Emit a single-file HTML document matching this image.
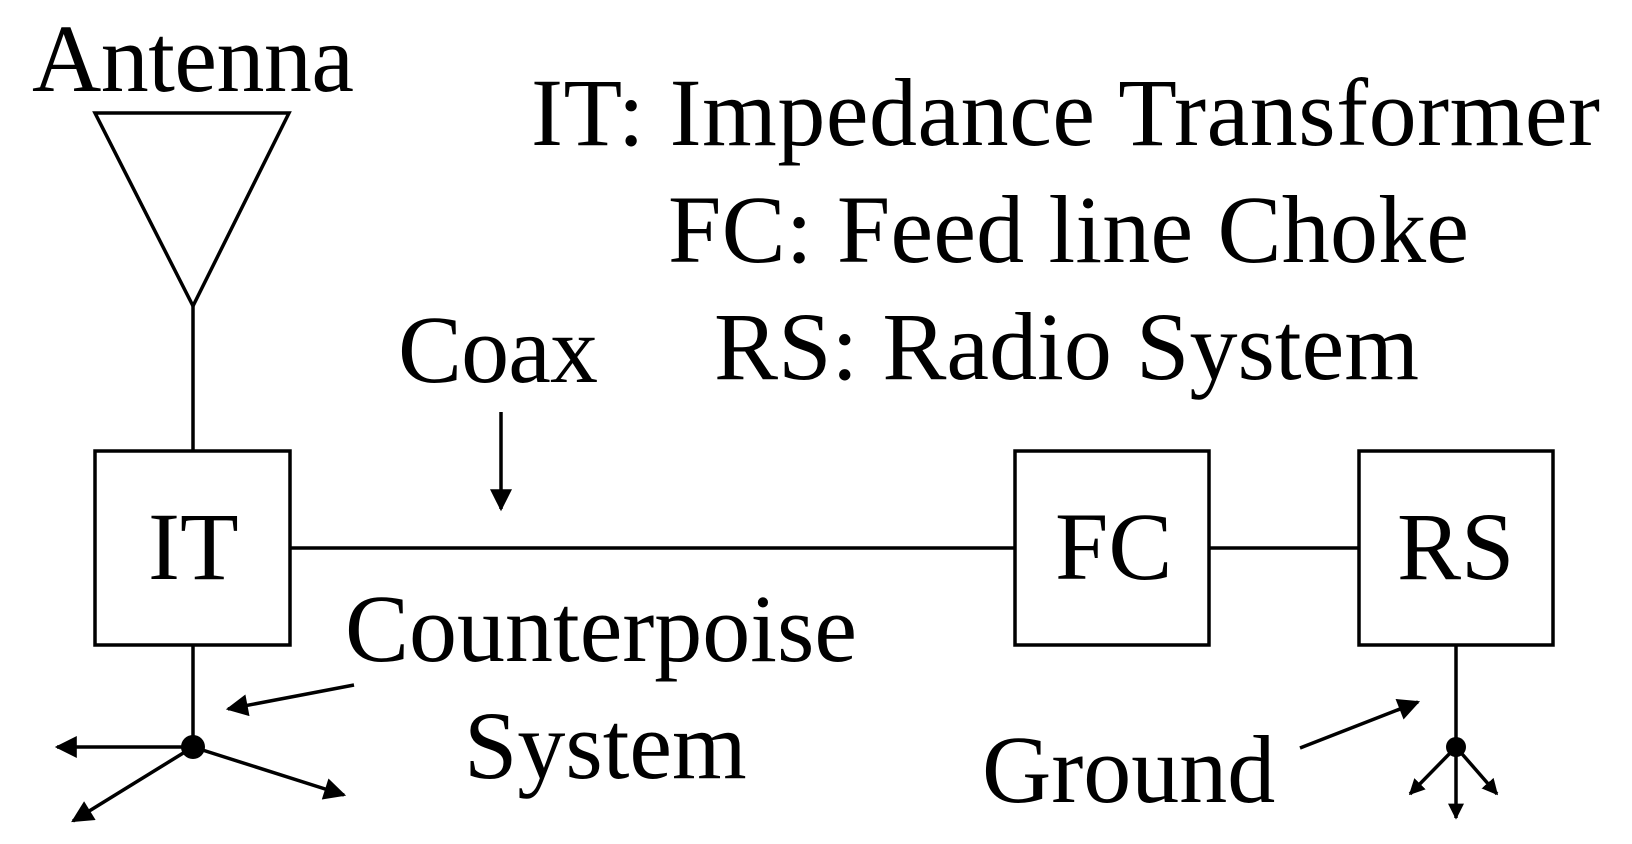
<!DOCTYPE html>
<html><head><meta charset="utf-8"><style>
html,body{margin:0;padding:0;background:#fff;}
svg{display:block;}
text{font-family:"Liberation Serif",serif;fill:#000;font-size:96px;}
</style></head><body>
<svg width="1632" height="844" viewBox="0 0 1632 844" xmlns="http://www.w3.org/2000/svg">
<defs>
<marker id="a" viewBox="0 0 10 10" refX="9" refY="5" markerWidth="8" markerHeight="8" markerUnits="userSpaceOnUse" orient="auto">
<path d="M0,0 L10,5 L0,10 z" fill="#000"/></marker>
<marker id="b" viewBox="0 0 10 10" refX="9" refY="5" markerWidth="24" markerHeight="22" markerUnits="userSpaceOnUse" orient="auto">
<path d="M0,0 L10,5 L0,10 z" fill="#000"/></marker>
<marker id="c" viewBox="0 0 10 10" refX="9" refY="5" markerWidth="16" markerHeight="16" markerUnits="userSpaceOnUse" orient="auto">
<path d="M0,0 L10,5 L0,10 z" fill="#000"/></marker>
</defs>
<g stroke="#000" stroke-width="3.5" fill="none">
<polygon points="95,113 289,113 193,306"/>
<line x1="193" y1="306" x2="193" y2="451"/>
<rect x="95" y="451" width="195" height="194"/>
<rect x="1015" y="451" width="194" height="194"/>
<rect x="1359" y="451" width="194" height="194"/>
<line x1="290" y1="548" x2="1015" y2="548"/>
<line x1="1209" y1="548" x2="1359" y2="548"/>
<line x1="193" y1="645" x2="193" y2="747"/>
<line x1="1456" y1="645" x2="1456" y2="747"/>
<line x1="501" y1="412" x2="501" y2="509" marker-end="url(#b)"/>
<line x1="354" y1="685" x2="228" y2="709" marker-end="url(#b)"/>
<line x1="193" y1="747" x2="57" y2="747" marker-end="url(#b)"/>
<line x1="193" y1="747" x2="73" y2="821" marker-end="url(#b)"/>
<line x1="193" y1="747" x2="344" y2="795" marker-end="url(#b)"/>
<line x1="1300" y1="748" x2="1418" y2="702" marker-end="url(#b)"/>
<line x1="1456" y1="747" x2="1410" y2="794" marker-end="url(#c)"/>
<line x1="1456" y1="747" x2="1456" y2="818" marker-end="url(#c)"/>
<line x1="1456" y1="747" x2="1497" y2="794" marker-end="url(#c)"/>
</g>
<circle cx="193" cy="747" r="12" fill="#000"/>
<circle cx="1456" cy="747" r="10" fill="#000"/>
<text x="32" y="91" textLength="322">Antenna</text>
<text x="531" y="145" textLength="1069">IT: Impedance Transformer</text>
<text x="668" y="262" textLength="801">FC: Feed line Choke</text>
<text x="714" y="379" textLength="705">RS: Radio System</text>
<text x="398" y="382" textLength="200">Coax</text>
<text x="148" y="579" font-size="100">IT</text>
<text x="1055" y="579" font-size="100">FC</text>
<text x="1397" y="579" font-size="100">RS</text>
<text x="345" y="661">Counterpoise</text>
<text x="464" y="778">System</text>
<text x="982" y="802">Ground</text>
</svg>
</body></html>
